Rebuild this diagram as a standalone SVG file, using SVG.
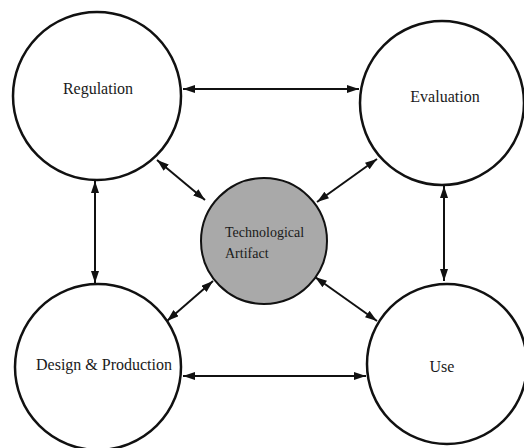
<svg xmlns="http://www.w3.org/2000/svg" width="524" height="448" viewBox="0 0 524 448">
<defs>
<marker id="ah" viewBox="0 0 12 8" refX="12" refY="4" markerWidth="12" markerHeight="8" markerUnits="userSpaceOnUse" orient="auto-start-reverse">
<path d="M0,0 L12,4 L0,8 Z" fill="#111"/>
</marker>
<style>
.node{fill:#fff;stroke:#111;stroke-width:2.5}
.core{fill:#a9a9a9;stroke:#111;stroke-width:2}
.lbl{font-family:"Liberation Serif","Times New Roman",serif;font-size:16px;fill:#1a1a1a;text-anchor:middle}
.sm{font-family:"Liberation Serif","Times New Roman",serif;font-size:14px;fill:#1a1a1a}
.c{stroke:#111;stroke-width:2;fill:none;marker-start:url(#ah);marker-end:url(#ah)}
</style>
</defs>
<rect width="524" height="448" fill="#fff"/>
<g id="connectors">
<line class="c" x1="183" y1="89" x2="359" y2="89"/>
<line class="c" x1="95" y1="181" x2="95" y2="283"/>
<line class="c" x1="444" y1="186" x2="444" y2="281"/>
<line class="c" x1="183" y1="376" x2="366" y2="376"/>
<line class="c" x1="157" y1="160" x2="205" y2="200"/>
<line class="c" x1="377" y1="159" x2="317" y2="202"/>
<line class="c" x1="167" y1="321" x2="213" y2="281"/>
<line class="c" x1="315" y1="277" x2="377" y2="321"/>
</g>
<g id="regulation">
<circle class="node" cx="97" cy="96" r="84"/>
<text class="lbl" x="98" y="94">Regulation</text>
</g>
<g id="evaluation">
<circle class="node" cx="442" cy="103" r="82"/>
<text class="lbl" x="445" y="102">Evaluation</text>
</g>
<g id="design-production">
<circle class="node" cx="98" cy="367" r="83"/>
<text class="lbl" x="104" y="370">Design &amp; Production</text>
</g>
<g id="use">
<circle class="node" cx="447" cy="364" r="80"/>
<text class="lbl" x="442" y="372">Use</text>
</g>
<g id="technological-artifact">
<circle class="core" cx="264" cy="241" r="63"/>
<text class="sm" x="225" y="237">Technological</text>
<text class="sm" x="225" y="258">Artifact</text>
</g>
</svg>
